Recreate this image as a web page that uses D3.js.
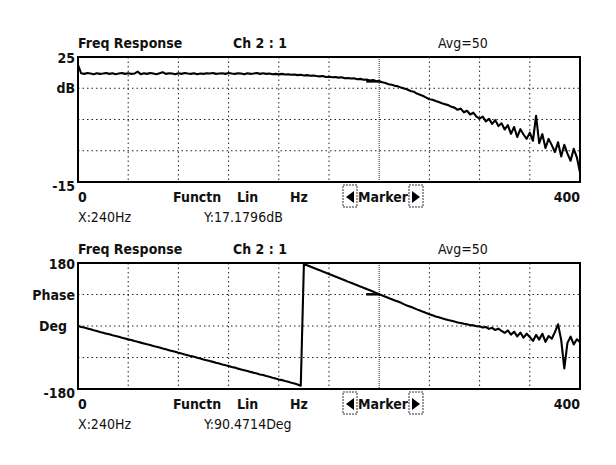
<!DOCTYPE html>
<html>
<head>
<meta charset="utf-8">
<script src="https://cdn.jsdelivr.net/npm/d3@7"></script>
<style>
  body { margin: 0; background: #fff; }
  text { font-family: "DejaVu Sans Condensed", "DejaVu Sans", sans-serif; fill: #111; }
</style>
</head>
<body>
<svg id="chart" width="616" height="465"></svg>
<script>
// sampling grid of the analyser trace (Hz)
const freqStep = 2.5;
const freqDomain = [0, 400];
const xGridTicks = [40, 80, 120, 160, 200, 240, 280, 320, 360];
const markerFreq = 240;

// magnitude trace, dB, one value every 2.5 Hz
const magDb = [
  22.5, 19.8, 19.6, 19.9, 19.7, 19.5, 19.8, 19.6,
  19.7, 19.9, 19.6, 19.8, 19.5, 19.7, 19.9, 19.6,
  19.8, 19.6, 19.7, 20.3, 19.5, 19.8, 19.6, 19.9,
  19.7, 19.5, 19.8, 20.1, 19.6, 19.8, 19.7, 19.5,
  19.8, 19.6, 19.9, 19.7, 19.6, 19.8, 19.5, 19.7,
  19.6, 19.8, 19.7, 19.9, 19.6, 19.7, 19.8, 19.6,
  19.9, 19.7, 19.6, 19.8, 19.7, 19.5, 19.8, 19.6,
  19.7, 19.9, 19.6, 19.8, 19.6, 19.7, 19.5, 19.6,
  19.5, 19.6, 19.4, 19.5, 19.3, 19.4, 19.2, 19.3,
  19.1, 19.2, 19.0, 19.1, 18.9, 18.8, 18.9, 18.6,
  18.7, 18.5, 18.6, 18.4, 18.5, 18.2, 18.3, 18.1,
  18.2, 17.9, 18.0, 17.7, 17.8, 17.5, 17.6, 17.3,
  17.2, 16.9, 16.7, 16.3, 16.1, 15.8, 15.6, 15.2,
  14.9, 14.6, 14.1, 13.9, 13.3, 12.9, 12.5, 12.0,
  11.5, 11.3, 10.9, 10.6, 10.2, 9.9, 9.6, 9.1,
  8.8, 8.1, 8.5, 7.3, 7.8, 6.6, 7.2, 5.9,
  5.3, 5.9, 4.4, 5.2, 3.6, 4.8, 2.9, 3.8,
  1.8, 3.2, 0.4, 2.6, -0.6, 1.9, 0.2, -1.2,
  0.8, -1.8, 6.2, -2.6, 0.3, -4.1, -1.2, -3.2,
  -5.4, -2.3, -6.8, -3.1, -5.9, -8.2, -4.4, -7.1,
  -12.0
];

// phase trace, degrees (wrapped to +-180), one value every 2.5 Hz
const phaseDeg = [
  0.5, -2.6, -4.5, -7.4, -9.3, -12.2, -14.1, -17.0,
  -19.0, -21.8, -23.7, -26.5, -28.6, -31.0, -33.4, -35.6,
  -38.2, -40.1, -43.0, -44.9, -47.5, -49.8, -52.3, -54.4,
  -57.3, -59.5, -61.6, -64.3, -66.5, -69.0, -71.4, -73.6,
  -76.5, -78.6, -81.2, -83.4, -86.1, -88.0, -90.7, -93.0,
  -95.8, -97.6, -100.3, -102.5, -105.2, -107.1, -109.9, -112.0,
  -114.6, -117.2, -118.9, -121.8, -124.0, -126.3, -128.5, -131.1,
  -133.4, -135.5, -138.3, -140.1, -142.9, -145.0, -147.6, -149.8,
  -152.7, -154.6, -157.3, -159.5, -162.0, -164.2, -166.9, -170.5,
  177.0, 173.8, 170.1, 166.5, 162.9, 159.6, 155.8, 152.4,
  148.7, 145.2, 141.3, 138.0, 134.1, 130.9, 126.8, 123.6,
  119.8, 116.5, 112.6, 109.4, 105.5, 101.9, 98.3, 94.6,
  90.5, 87.0, 83.6, 79.8, 76.6, 73.0, 69.9, 66.2,
  61.8, 58.1, 54.7, 51.2, 47.5, 44.2, 40.4, 37.1,
  33.5, 30.8, 27.4, 25.1, 22.0, 19.6, 16.9, 14.8,
  12.6, 10.1, 8.8, 6.2, 4.9, 2.4, 1.8, -0.6,
  -1.0, -4.5, -2.8, -8.2, -5.1, -11.6, -7.4, -14.2,
  -19.5, -12.8, -24.6, -16.3, -29.8, -18.7, -33.5, -21.9,
  -31.2, -42.6, -25.4, -38.9, -22.1, -45.3, -28.7, -36.4,
  -17.5, 4.8, -39.6, -121.0, -48.2, -30.5, -52.8, -37.9,
  -46.0
];

const magYLabels = [
  {text: "25", v: 25, pos: "top"},
  {text: "dB", v: 15, pos: "mid"},
  {text: "-15", v: -15, pos: "bottom"}
];
const phaseYLabels = [
  {text: "180", v: 180, pos: "top"},
  {text: "Phase", v: 90, pos: "mid"},
  {text: "Deg", v: 0, pos: "mid", endX: 67},
  {text: "-180", v: -180, pos: "bottom"}
];

const svg = d3.select("#chart");

function drawPanel(opts){
  const left = 78, right = 580;
  const top = opts.top, bottom = opts.bottom;
  const g = svg.append("g");

  const x = d3.scaleLinear().domain(freqDomain).range([left, right]);
  const y = d3.scaleLinear().domain(opts.domain).range([top, bottom]);

  // dotted grid
  g.append("g").selectAll("line.vx")
    .data(xGridTicks)
    .enter().append("line")
      .attr("x1", d => x(d)).attr("x2", d => x(d))
      .attr("y1", top).attr("y2", bottom)
      .attr("stroke", "#222")
      .attr("stroke-width", 1)
      .attr("stroke-dasharray", d => d == markerFreq ? "1,1" : "1.5,3");

  g.append("g").selectAll("line.hy")
    .data(opts.grid)
    .enter().append("line")
      .attr("x1", left).attr("x2", right)
      .attr("y1", d => y(d)).attr("y2", d => y(d))
      .attr("stroke", "#222")
      .attr("stroke-width", 1)
      .attr("stroke-dasharray", "1.5,3");

  // frame
  g.append("rect")
    .attr("x", left).attr("y", top)
    .attr("width", right - left).attr("height", bottom - top)
    .attr("fill", "none")
    .attr("stroke", "#000")
    .attr("stroke-width", 2);

  // trace
  const line = d3.line()
    .x((d, i) => x(i * freqStep))
    .y(d => y(d));

  g.append("path")
    .datum(opts.values)
    .attr("d", line)
    .attr("fill", "none")
    .attr("stroke", "#000")
    .attr("stroke-width", 2.1)
    .attr("stroke-linejoin", "round");

  // marker crosshair stub
  const mv = opts.values[markerFreq / freqStep];
  g.append("line")
    .attr("x1", x(markerFreq) - 13).attr("x2", x(markerFreq) + 1)
    .attr("y1", y(mv)).attr("y2", y(mv))
    .attr("stroke", "#000").attr("stroke-width", 2.5);

  // titles
  g.append("text").attr("x", left).attr("y", top - 9)
    .style("font-weight", "bold").style("font-size", "14px")
    .text("Freq Response");
  g.append("text").attr("x", 233).attr("y", top - 9)
    .style("font-weight", "bold").style("font-size", "14px")
    .text("Ch 2 : 1");
  g.append("text").attr("x", 438).attr("y", top - 9)
    .style("font-size", "14px")
    .text("Avg=50");

  // y labels
  g.append("g").selectAll("text")
    .data(opts.yLabels)
    .enter().append("text")
      .attr("x", d => d.endX || 75)
      .attr("y", d => d.pos == "top" ? top + 6 : d.pos == "bottom" ? bottom + 9 : y(d.v) + 5)
      .attr("text-anchor", "end")
      .style("font-weight", "bold")
      .style("font-size", "14px")
      .text(d => d.text);

  // bottom row
  const rowY = bottom + 20;
  const row = [
    {text: "0", x: left, anchor: "start"},
    {text: "Functn", x: 173, anchor: "start"},
    {text: "Lin", x: 237, anchor: "start"},
    {text: "Hz", x: 290, anchor: "start"},
    {text: "Marker", x: 358, anchor: "start"},
    {text: "400", x: right, anchor: "end"}
  ];
  g.append("g").selectAll("text")
    .data(row)
    .enter().append("text")
      .attr("x", d => d.x).attr("y", rowY)
      .attr("text-anchor", d => d.anchor)
      .style("font-weight", "bold")
      .style("font-size", "14px")
      .text(d => d.text);

  // marker arrow buttons
  const btns = [{x: 343, dir: -1}, {x: 409, dir: 1}];
  btns.forEach(b => {
    g.append("rect")
      .attr("x", b.x).attr("y", bottom + 3)
      .attr("width", 14).attr("height", 22)
      .attr("fill", "none").attr("stroke", "#333")
      .attr("stroke-width", 1).attr("stroke-dasharray", "2,1");
    const cx = b.x + 7, cy = rowY - 5;
    const pts = b.dir < 0
      ? [[cx + 4, cy - 6], [cx + 4, cy + 6], [cx - 4, cy]]
      : [[cx - 4, cy - 6], [cx - 4, cy + 6], [cx + 4, cy]];
    g.append("path")
      .attr("d", "M" + pts.join("L") + "Z")
      .attr("fill", "#000");
  });

  // readout
  g.append("text").attr("x", left).attr("y", bottom + 40)
    .style("font-size", "14px").text("X:240Hz");
  g.append("text").attr("x", 204).attr("y", bottom + 40)
    .style("font-size", "14px").text(opts.readout);
}

drawPanel({
  top: 57, bottom: 182,
  domain: [25, -15],
  grid: [15, 5, -5],
  values: magDb,
  yLabels: magYLabels,
  readout: "Y:17.1796dB"
});

drawPanel({
  top: 263, bottom: 389,
  domain: [180, -180],
  grid: [90, 0, -90],
  values: phaseDeg,
  yLabels: phaseYLabels,
  readout: "Y:90.4714Deg"
});
</script>
</body>
</html>
